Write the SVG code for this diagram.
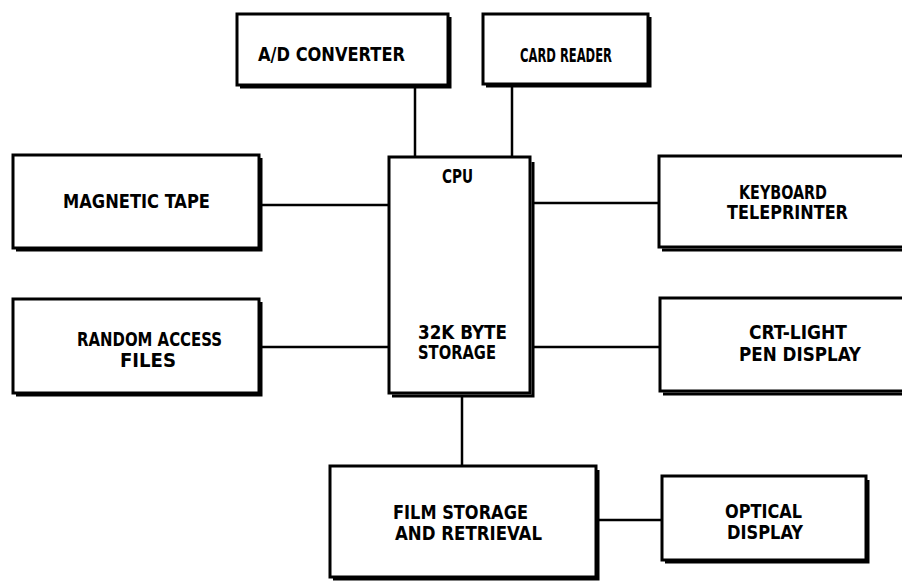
<svg xmlns="http://www.w3.org/2000/svg" width="902" height="582" viewBox="0 0 902 582">
<style>
.box{fill:#fff;stroke:#000;stroke-width:3}
.sh{fill:none;stroke:#000;stroke-width:3}
.t{font-family:"Liberation Sans Narrow","DejaVu Sans Condensed","Liberation Sans",sans-serif;font-weight:bold;font-size:19px;fill:#000}
.c{fill:none;stroke:#000;stroke-width:2.5}
</style>
<rect width="902" height="582" fill="#fff"/>
<g id="connectors">
<line class="c" x1="415" y1="87" x2="415" y2="157"/>
<line class="c" x1="512" y1="86" x2="512" y2="157"/>
<line class="c" x1="260" y1="205" x2="389" y2="205"/>
<line class="c" x1="260" y1="347" x2="389" y2="347"/>
<line class="c" x1="532" y1="203" x2="659" y2="203"/>
<line class="c" x1="532" y1="347" x2="660" y2="347"/>
<line class="c" x1="462" y1="395" x2="462" y2="466"/>
<line class="c" x1="597" y1="520" x2="662" y2="520"/>
</g>
<g id="ad">
<rect class="box" x="237" y="14" width="211" height="71"/>
<polyline class="sh" points="240,87 450,87 450,17"/>
<text class="t" x="258" y="61" textLength="147" lengthAdjust="spacingAndGlyphs">A/D CONVERTER</text>
</g>
<g id="card">
<rect class="box" x="483" y="14" width="165" height="70"/>
<polyline class="sh" points="486,86 650,86 650,17"/>
<text class="t" x="520" y="62" textLength="92" lengthAdjust="spacingAndGlyphs">CARD READER</text>
</g>
<g id="cpu">
<rect class="box" x="389" y="157" width="141" height="236"/>
<polyline class="sh" points="392,396 533,396 533,162"/>
<text class="t" x="442" y="183" textLength="31" lengthAdjust="spacingAndGlyphs">CPU</text>
<text class="t" x="418" y="339" textLength="89" lengthAdjust="spacingAndGlyphs">32K BYTE</text>
<text class="t" x="418" y="359" textLength="78" lengthAdjust="spacingAndGlyphs">STORAGE</text>
</g>
<g id="tape">
<rect class="box" x="13" y="155" width="246" height="93"/>
<polyline class="sh" points="16,250 261,250 261,158"/>
<text class="t" x="63" y="208" textLength="147" lengthAdjust="spacingAndGlyphs">MAGNETIC TAPE</text>
</g>
<g id="random">
<rect class="box" x="13" y="299" width="246" height="94"/>
<polyline class="sh" points="16,395 261,395 261,302"/>
<text class="t" x="77" y="346" textLength="145" lengthAdjust="spacingAndGlyphs">RANDOM ACCESS</text>
<text class="t" x="120" y="367" textLength="56" lengthAdjust="spacingAndGlyphs">FILES</text>
</g>
<g id="keyboard">
<rect class="box" x="659" y="156" width="250" height="91"/>
<polyline class="sh" points="662,250 905,250"/>
<text class="t" x="739" y="199" textLength="88" lengthAdjust="spacingAndGlyphs">KEYBOARD</text>
<text class="t" x="727" y="219" textLength="121" lengthAdjust="spacingAndGlyphs">TELEPRINTER</text>
</g>
<g id="crt">
<rect class="box" x="660" y="298" width="250" height="93"/>
<polyline class="sh" points="663,394 905,394"/>
<text class="t" x="749" y="339" textLength="98" lengthAdjust="spacingAndGlyphs">CRT-LIGHT</text>
<text class="t" x="739" y="361" textLength="122" lengthAdjust="spacingAndGlyphs">PEN DISPLAY</text>
</g>
<g id="film">
<rect class="box" x="330" y="466" width="266" height="111"/>
<polyline class="sh" points="333,579 598,579 598,470"/>
<text class="t" x="393" y="519" textLength="135" lengthAdjust="spacingAndGlyphs">FILM STORAGE</text>
<text class="t" x="395" y="540" textLength="147" lengthAdjust="spacingAndGlyphs">AND RETRIEVAL</text>
</g>
<g id="optical">
<rect class="box" x="662" y="476" width="204" height="84"/>
<polyline class="sh" points="665,562 868,562 868,480"/>
<text class="t" x="725" y="518" textLength="77" lengthAdjust="spacingAndGlyphs">OPTICAL</text>
<text class="t" x="727" y="539" textLength="76" lengthAdjust="spacingAndGlyphs">DISPLAY</text>
</g>
</svg>
